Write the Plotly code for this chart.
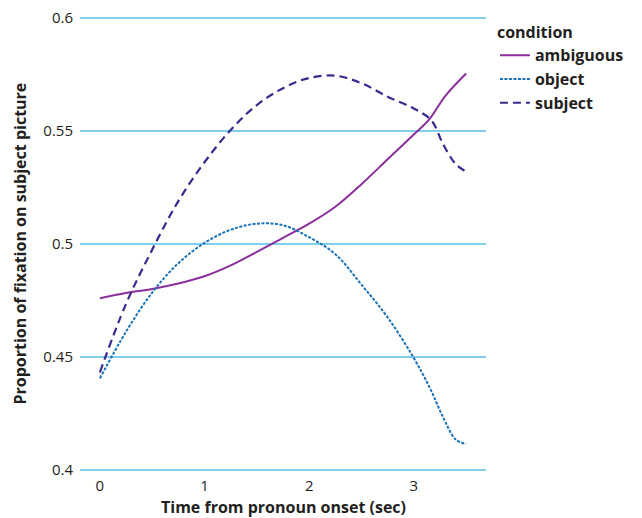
import plotly.graph_objects as go

# Data
t_ambiguous = [0, 0.25, 0.5, 0.75, 1.0, 1.25, 1.5, 1.75, 2.0, 2.25, 2.5, 2.75, 3.0, 3.15, 3.3, 3.5]
v_ambiguous = [0.476, 0.4783, 0.4801, 0.4825, 0.4857, 0.4905, 0.4965, 0.5027, 0.509, 0.5165,
               0.5265, 0.5375, 0.5485, 0.5553, 0.5655, 0.5755]

t_object = [0, 0.25, 0.5, 0.75, 1.0, 1.25, 1.5, 1.75, 2.0, 2.25, 2.5, 2.75, 3.0, 3.15, 3.28, 3.4, 3.5]
v_object = [0.4405, 0.4612, 0.4785, 0.4915, 0.5005, 0.5063, 0.509, 0.5083, 0.503, 0.4955,
            0.482, 0.4675, 0.4495, 0.4366, 0.4233, 0.4135, 0.4115]

t_subject = [0, 0.25, 0.5, 0.75, 1.0, 1.25, 1.5, 1.75, 2.0, 2.25, 2.5, 2.75, 3.0, 3.17, 3.28, 3.4, 3.5]
v_subject = [0.4432, 0.4735, 0.4975, 0.519, 0.5362, 0.5505, 0.5615, 0.569, 0.5735, 0.5745,
             0.5712, 0.5652, 0.560, 0.5546, 0.5442, 0.5354, 0.532]

y_ticks = [0.4, 0.45, 0.5, 0.55, 0.6]
y_ticklabels = ["0.4", "0.45", "0.5", "0.55", "0.6"]
x_ticks = [0, 1, 2, 3]

FONT = "Open Sans"
TXT = "#231f20"

fig = go.Figure()
fig.add_trace(go.Scatter(x=t_ambiguous, y=v_ambiguous, name="<b>ambiguous</b>", mode="lines",
                         line=dict(color="#8a2f9c", width=2, shape="spline")))
fig.add_trace(go.Scatter(x=t_object, y=v_object, name="<b>object</b>", mode="lines",
                         line=dict(color="#1b72b8", width=2, dash="3px,1.5px", shape="spline")))
fig.add_trace(go.Scatter(x=t_subject, y=v_subject, name="<b>subject</b>", mode="lines",
                         line=dict(color="#3b2a8c", width=2.2, dash="8px,5px", shape="spline")))

fig.update_layout(
    width=634, height=510,
    margin=dict(l=72, r=156, t=9, b=47, autoexpand=False),
    plot_bgcolor="white", paper_bgcolor="white",
    font=dict(family=FONT, color=TXT, size=15),
    legend=dict(
        title=dict(text="<b>condition</b>", font=dict(size=16, family=FONT, color=TXT)),
        font=dict(size=16, family=FONT, color=TXT),
        x=1.022, y=0.999, xanchor="left", yanchor="top",
        tracegroupgap=0, itemwidth=30,
    ),
    annotations=[
        dict(text="<b>Time from pronoun onset (sec)</b>", xref="paper", yref="paper",
             x=0.5, y=-0.079, xanchor="center", yanchor="middle", showarrow=False,
             font=dict(size=16, family=FONT, color=TXT)),
        dict(text="<b>Proportion of fixation on subject picture</b>", xref="paper", yref="paper",
             x=-0.149, y=0.5, xanchor="center", yanchor="middle", showarrow=False, textangle=-90,
             font=dict(size=16, family=FONT, color=TXT)),
    ],
)

fig.update_xaxes(
    range=[-0.19, 3.69], tickvals=x_ticks, showgrid=False, zeroline=False, showline=False,
    ticks="", ticklabelstandoff=4, automargin=False,
    tickfont=dict(size=15),
)
fig.update_yaxes(
    range=[0.3995, 0.6005], tickvals=y_ticks, ticktext=y_ticklabels,
    showgrid=True, gridcolor="#80cfee", gridwidth=1.5, zeroline=False, showline=False,
    ticks="", ticklabelstandoff=6, automargin=False, ticklabeloverflow="allow",
    tickfont=dict(size=15),
)

fig.write_html("out.html")
